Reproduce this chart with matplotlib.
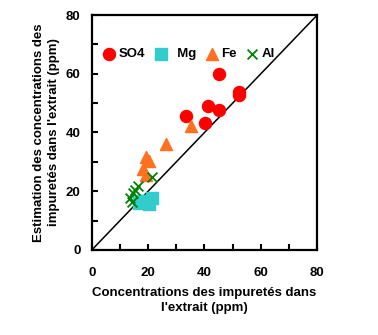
import numpy as np
import matplotlib.pyplot as plt
from matplotlib.ticker import MultipleLocator

plt.rcParams['font.family'] = ['Liberation Sans', 'DejaVu Sans']

so4_x = [45.2, 52.1, 52.3, 41.2, 45.3, 33.3, 40.2]
so4_y = [59.8, 53.9, 52.7, 49.0, 47.6, 45.6, 43.3]
mg_x = [16.7, 18.3, 21.2, 20.4, 17.5]
mg_y = [15.9, 16.8, 17.6, 15.5, 16.5]
fe_x = [35.2, 26.3, 19.4, 20.3, 18.0, 19.1]
fe_y = [42.2, 36.0, 31.5, 30.4, 27.6, 25.5]
al_x = [21.2, 16.3, 15.3, 14.5, 13.5, 14.3]
al_y = [24.7, 21.8, 20.4, 19.3, 17.8, 16.4]

fig = plt.figure(figsize=(3.78, 3.35), dpi=100)
ax = fig.add_axes([0.243, 0.254, 0.596, 0.701])

ax.plot([0, 80], [0, 80], color='black', lw=1.1, zorder=1)
ax.scatter(so4_x, so4_y, marker='o', s=75, color='#FF0000', label='SO4', zorder=3)
ax.scatter(mg_x, mg_y, marker='s', s=70, color='#33CCCC', label='  Mg', zorder=3)
ax.scatter(fe_x, fe_y, marker='^', s=75, color='#FF7020', label='Fe', zorder=3)
ax.scatter(al_x, al_y, marker='x', s=50, color='#008000', linewidths=1.3, label='Al', zorder=4)

ax.set_xlim(0, 80)
ax.set_ylim(0, 80)
ax.xaxis.set_major_locator(MultipleLocator(20))
ax.yaxis.set_major_locator(MultipleLocator(20))
ax.xaxis.set_minor_locator(MultipleLocator(10))
ax.yaxis.set_minor_locator(MultipleLocator(10))
ax.tick_params(which='both', direction='in', width=1.5, length=4, labelsize=9.5)
ax.tick_params(axis='x', which='major', pad=12)
ax.tick_params(axis='y', which='major', pad=8)
for lab in ax.get_xticklabels() + ax.get_yticklabels():
    lab.set_fontweight('bold')
for s in ax.spines.values():
    s.set_linewidth(1.6)

ax.set_xlabel("Concentrations des impuretés dans\nl'extrait (ppm)",
              fontsize=9.5, fontweight='bold', labelpad=6, linespacing=1.35)
ax.set_ylabel("Estimation des concentrations des\nimpuretés dans l'extrait (ppm)",
              fontsize=9.5, fontweight='bold', labelpad=4, linespacing=1.35)

leg = ax.legend(loc='upper left', bbox_to_anchor=(0.0, 0.9), ncol=4, frameon=False,
                handletextpad=0.1, columnspacing=0.6, borderaxespad=0.3,
                handlelength=1.2, prop={'weight': 'bold', 'size': 9.5})

fig.savefig('out.png', dpi=100)
